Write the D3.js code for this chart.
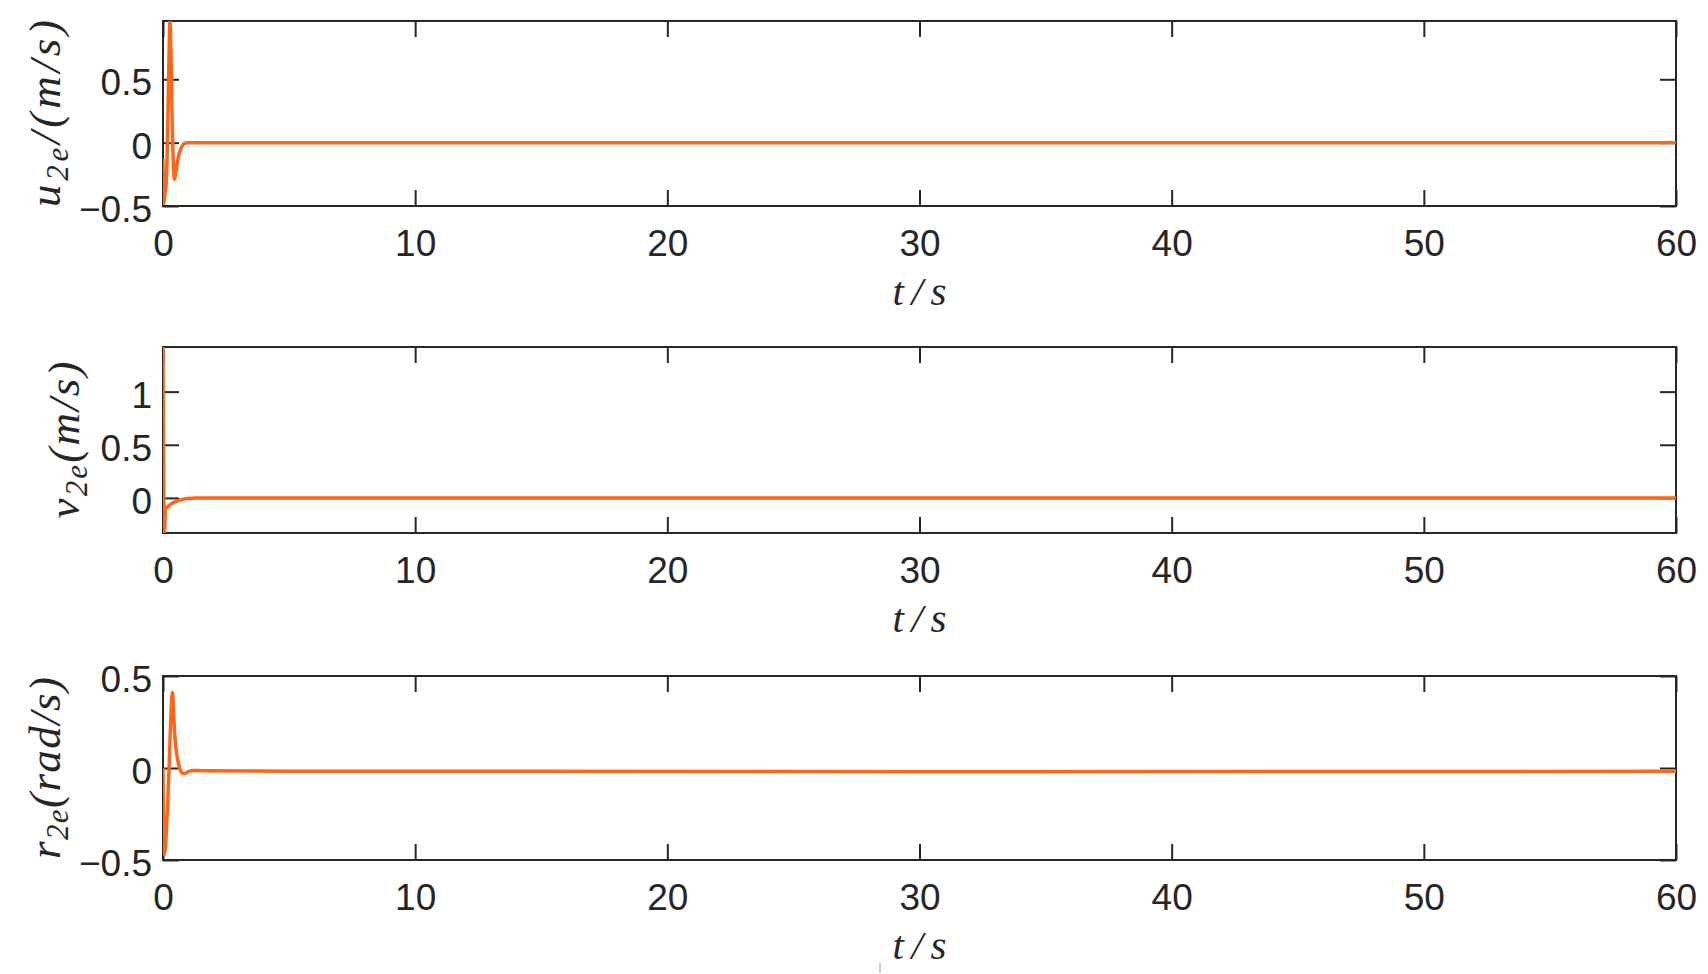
<!DOCTYPE html>
<html><head><meta charset="utf-8">
<script src="https://cdn.jsdelivr.net/npm/d3@7"></script>
<style>body{margin:0;background:#fff} svg{display:block}</style>
</head><body>
<svg id="chart" width="1708" height="974"></svg>
<script>
// ---- data ----
const xTicks = [0, 10, 20, 30, 40, 50, 60];
const xLabel = "t/s";

const uTicks = [-0.5, 0, 0.5];
const uTime = [0, 0.03, 0.08, 0.12, 0.16, 0.2, 0.24, 0.28, 0.32, 0.36, 0.4, 0.45, 0.5, 0.55, 0.6, 0.7, 0.8, 0.9, 1.0, 1.2, 60];
const uVals = [-0.13, -0.48, -0.40, -0.34, -0.15, 0.25, 0.70, 0.96, 0.65, 0.20, -0.12, -0.29, -0.25, -0.18, -0.12, -0.05, -0.015, -0.003, 0, 0, 0];

const vTicks = [0, 0.5, 1];
const vTime = [0, 0.05, 0.1, 0.2, 0.3, 0.45, 0.6, 0.8, 1.0, 1.3, 60];
const vVals = [1.42, -0.33, -0.11, -0.08, -0.06, -0.04, -0.025, -0.012, -0.005, 0, 0];

const rTicks = [-0.5, 0, 0.5];
const rTime = [0, 0.04, 0.09, 0.14, 0.19, 0.24, 0.29, 0.34, 0.38, 0.42, 0.48, 0.55, 0.62, 0.7, 0.8, 0.9, 1.0, 1.2, 1.6, 5, 30, 60];
const rVals = [0, -0.47, -0.44, -0.32, -0.18, 0.0, 0.2, 0.36, 0.41, 0.3, 0.15, 0.07, 0.02, -0.015, -0.03, -0.028, -0.02, -0.013, -0.015, -0.017, -0.02, -0.018];

const panels = [
  {id:"u", time:uTime, vals:uVals, ticks:uTicks, dom:[-0.5, 0.96], top:21, bottom:206,
   lab:["u","2e","/(m/s)"], labX:60, labLen:187},
  {id:"v", time:vTime, vals:vVals, ticks:vTicks, dom:[-0.33, 1.42], top:347, bottom:533,
   lab:["v","2e","(m/s)"], labX:79, labLen:157},
  {id:"r", time:rTime, vals:rVals, ticks:rTicks, dom:[-0.5, 0.5], top:676, bottom:860,
   lab:["r","2e","(rad/s)"], labX:60, labLen:182}
];

const svg = d3.select("#chart");
const left = 163, right = 1676;
const x = d3.scaleLinear().domain([0, 60]).range([left, right]);
const axisColor = "#262626";
const lineColor = "#ff661a";
const fmt = d => (d < 0 ? "\u2212" + Math.abs(d) : String(d));

panels.forEach(p => {
  const y = d3.scaleLinear().domain(p.dom).range([p.bottom, p.top]);
  const g = svg.append("g");

  g.append("clipPath").attr("id", "clip-" + p.id)
    .append("rect").attr("x", left).attr("y", p.top).attr("width", right - left).attr("height", p.bottom - p.top);

  const styleAxis = sel => {
    sel.select(".domain").remove();
    sel.selectAll(".tick line").attr("stroke", axisColor).attr("stroke-width", 2);
    sel.selectAll(".tick text").attr("fill", axisColor)
      .style("font-family", "'Liberation Sans', Arial, Helvetica, sans-serif")
      .style("font-size", "37px");
  };

  g.append("g").attr("transform", `translate(0,${p.bottom})`)
    .call(d3.axisBottom(x).tickValues(xTicks).tickSize(-16).tickPadding(24).tickFormat(fmt))
    .call(styleAxis);
  g.append("g").attr("transform", `translate(0,${p.top})`)
    .call(d3.axisTop(x).tickValues(xTicks).tickSize(-16).tickFormat(""))
    .call(styleAxis);
  const ly = g.append("g").attr("transform", `translate(${left},0)`)
    .call(d3.axisLeft(y).tickValues(p.ticks).tickSize(-16).tickPadding(11).tickFormat(fmt))
    .call(styleAxis);
  ly.selectAll(".tick text").attr("dy", "0.42em");
  g.append("g").attr("transform", `translate(${right},0)`)
    .call(d3.axisRight(y).tickValues(p.ticks).tickSize(-16).tickFormat(""))
    .call(styleAxis);

  g.append("rect").attr("x", left).attr("y", p.top).attr("width", right - left).attr("height", p.bottom - p.top)
    .attr("fill", "none").attr("stroke", axisColor).attr("stroke-width", 2);

  const pts = p.time.map((t, i) => [t, p.vals[i]]);
  g.append("path").datum(pts)
    .attr("clip-path", `url(#clip-${p.id})`)
    .attr("fill", "none").attr("stroke", lineColor).attr("stroke-width", 3.5)
    .attr("stroke-linejoin", "round")
    .attr("d", d3.line().x(d => x(d[0])).y(d => y(d[1])).curve(d3.curveMonotoneX));

  // x label
  g.append("text").attr("x", (left + right) / 2).attr("y", p.bottom + 99)
    .attr("text-anchor", "middle").attr("textLength", 54).attr("lengthAdjust", "spacing")
    .style("font-family", "'Liberation Serif', 'Times New Roman', serif").style("font-style", "italic")
    .style("font-size", "41px").attr("fill", axisColor).text(xLabel);

  // y label
  const cy = (p.top + p.bottom) / 2;
  const yl = g.append("text").attr("transform", `translate(${p.labX},${cy}) rotate(-90)`)
    .attr("text-anchor", "middle").attr("textLength", p.labLen).attr("lengthAdjust", "spacing")
    .style("font-family", "'Liberation Serif', 'Times New Roman', serif").style("font-style", "italic")
    .style("font-size", "45px").attr("fill", axisColor);
  yl.append("tspan").text(p.lab[0]);
  yl.append("tspan").attr("dy", 8).style("font-size", "31px").text(p.lab[1]);
  yl.append("tspan").attr("dy", -8).text(p.lab[2]);
});

// small stray mark under bottom axis label in the source image
svg.append("line").attr("x1", 880).attr("x2", 880).attr("y1", 963).attr("y2", 973)
  .attr("stroke", "#999").attr("stroke-width", 1);
</script>
</body></html>
